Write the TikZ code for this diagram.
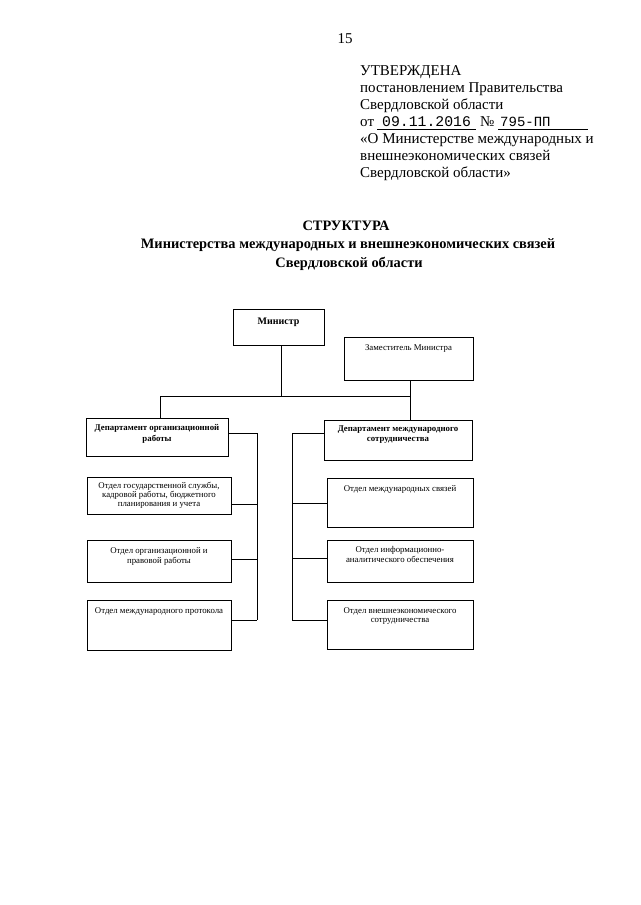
\documentclass[tikz,border=0pt]{standalone}
\usepackage{fontspec}
\setmainfont{Liberation Serif}
\newfontfamily\monof{Liberation Mono}
\begin{document}
\begin{tikzpicture}[x=1pt,y=-1pt,
  box/.style={draw, line width=0.7pt, inner sep=0pt, anchor=north west},
  lbl/.style={inner sep=0pt, anchor=north, align=center, font=\fontsize{8.8}{9.3}\selectfont},
  blbl/.style={lbl, font=\bfseries\fontsize{8.8}{10.5}\selectfont},
  head/.style={inner sep=0pt, anchor=base west, font=\fontsize{15}{17}\selectfont},
  ttl/.style={inner sep=0pt, anchor=base, font=\bfseries\fontsize{14.4}{17}\selectfont},
  conn/.style={draw, line width=0.7pt}]
\useasboundingbox[fill=white] (0,0) rectangle (640,905);

% page number and header
\node[head, anchor=base] (pg) at (345,43) {15};
\node[head] (h1) at (360,75) {УТВЕРЖДЕНА};
\node[head] (h2) at (360,92) {постановлением Правительства};
\node[head] (h3) at (360,109) {Свердловской области};
\node[head] (h4) at (360,126) {от};
\node[head, font=\monof\fontsize{14.8}{17}\selectfont] (date) at (382,126) {09.11.2016};
\node[head] (num) at (480,126) {№};
\node[head, font=\monof\fontsize{14}{17}\selectfont] (nr) at (500,126) {795-ПП};
\coordinate (u1a) at (377,129.5);
\coordinate (u1b) at (476,129.5);
\coordinate (u2a) at (498,129.5);
\coordinate (u2b) at (588,129.5);
\draw[line width=0.6pt] (u1a) -- (u1b);
\draw[line width=0.6pt] (u2a) -- (u2b);
\node[head] (h5) at (360,143) {«О Министерстве международных и};
\node[head] (h6) at (360,160) {внешнеэкономических связей};
\node[head] (h7) at (360,177) {Свердловской области»};

% title
\node[ttl] (t1) at (346,230) {СТРУКТУРА};
\node[ttl] (t2) at (348,248) {Министерства международных и внешнеэкономических связей};
\node[ttl] (t3) at (349,267) {Свердловской области};

% boxes
\node[box, minimum width=91pt, minimum height=36pt] (min) at (233,309) {};
\node[blbl, font=\bfseries\fontsize{10}{12}\selectfont] (mint) at (278.5,317.5) {Министр};
\node[box, minimum width=129pt, minimum height=43pt] (zam) at (344,337) {};
\node[lbl] (zamt) at (408.5,344.5) {Заместитель Министра};

\node[box, minimum width=142pt, minimum height=38pt] (dorg) at (86,418) {};
\node[blbl] (dorgt) at (157,424.5) {Департамент организационной\\работы};
\node[box, minimum width=144pt, minimum height=37pt] (o1) at (87,477) {};
\node[lbl] (o1t) at (159,481.5) {Отдел государственной службы,\\кадровой работы, бюджетного\\планирования и учета};
\node[box, minimum width=144pt, minimum height=42pt] (o2) at (87,540) {};
\node[lbl] (o2t) at (159,547.5) {Отдел организационной и\\правовой работы};
\node[box, minimum width=144pt, minimum height=50pt] (o3) at (87,600) {};
\node[lbl] (o3t) at (159,607.5) {Отдел международного протокола};

\node[box, minimum width=148pt, minimum height=40pt] (dint) at (324,420) {};
\node[blbl] (dintt) at (398,425.5) {Департамент международного\\сотрудничества};
\node[box, minimum width=146pt, minimum height=49pt] (i1) at (327,478) {};
\node[lbl] (i1t) at (400,485.5) {Отдел международных связей};
\node[box, minimum width=146pt, minimum height=42pt] (i2) at (327,540) {};
\node[lbl] (i2t) at (400,546.5) {Отдел информационно-\\аналитического обеспечения};
\node[box, minimum width=146pt, minimum height=49pt] (i3) at (327,600) {};
\node[lbl] (i3t) at (400,607.5) {Отдел внешнеэкономического\\сотрудничества};

% connectors
\coordinate (hl) at (160,396);
\coordinate (hm) at (281,396);
\coordinate (hr) at (410,396);
\draw[conn] (min.south -| hm) -- (hm);
\draw[conn] (hl) -- (hr);
\draw[conn] (hl) -- (hl |- dorg.north);
\draw[conn] (zam.south -| hr) -- (hr |- dint.north);

\coordinate (os) at (257,433);
\coordinate (oe) at (257,620);
\draw[conn] (dorg.east |- os) -- (os) -- (oe);
\draw[conn] ([yshift=-8pt]o1.east) -- ([yshift=-8pt]o1.east -| os);
\draw[conn] ([yshift=2pt]o2.east) -- ([yshift=2pt]o2.east -| os);
\draw[conn] (o3.east |- oe) -- (oe);

\coordinate (is) at (292,433);
\coordinate (ie) at (292,620);
\draw[conn] (dint.west |- is) -- (is) -- (ie);
\draw[conn] (i1.west) -- (i1.west -| is);
\draw[conn] ([yshift=3pt]i2.west) -- ([yshift=3pt]i2.west -| is);
\draw[conn] (i3.west |- ie) -- (ie);
\end{tikzpicture}
\end{document}
